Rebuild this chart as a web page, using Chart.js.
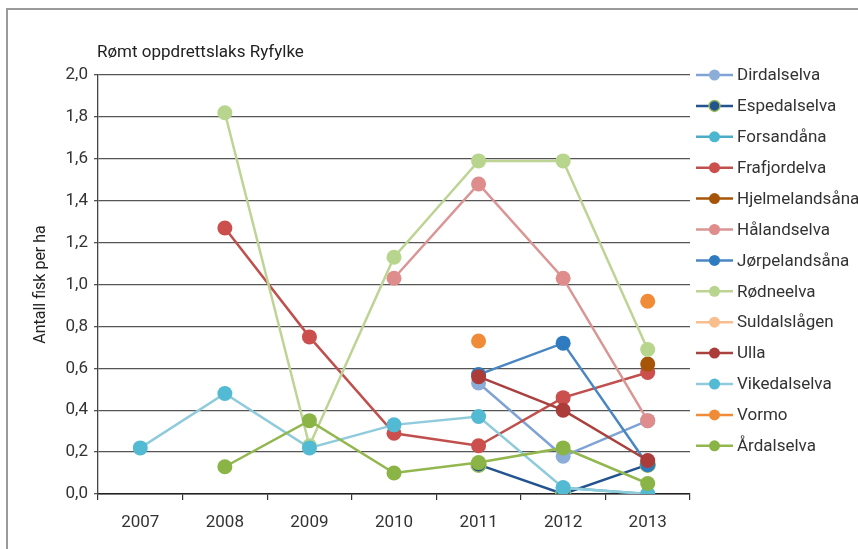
<!DOCTYPE html>
<html>
<head>
<meta charset="utf-8">
<script src="https://cdn.jsdelivr.net/npm/chart.js@4"></script>
<style>
  html, body { margin: 0; padding: 0; background: #fff; }
  #wrap { width: 858px; height: 549px; position: relative; }
</style>
</head>
<body>
<div id="wrap"><canvas id="fishChart" width="858" height="549"></canvas></div>
<script>
// ===== Data =====
const years = ['2007', '2008', '2009', '2010', '2011', '2012', '2013'];
const yTicks = [0, 0.2, 0.4, 0.6, 0.8, 1.0, 1.2, 1.4, 1.6, 1.8, 2.0];

const dirdalselva    = [null, null, null, null, 0.53, 0.18, 0.35];
const espedalselva   = [null, null, null, null, 0.14, 0.00, 0.14];
const forsandana     = [null, null, null, null, null, 0.03, 0.00];
const frafjordelva   = [null, 1.27, 0.75, 0.29, 0.23, 0.46, 0.58];
const hjelmelandsana = [null, null, null, null, null, null, 0.62];
const halandselva    = [null, null, null, 1.03, 1.48, 1.03, 0.35];
const jorpelandsana  = [null, null, null, null, 0.57, 0.72, 0.14];
const rodneelva      = [null, 1.82, 0.23, 1.13, 1.59, 1.59, 0.69];
const suldalslagen   = [null, null, null, null, null, null, null];
const ulla           = [null, null, null, null, 0.56, 0.40, 0.16];
const vikedalselva   = [0.22, 0.48, 0.22, 0.33, 0.37, 0.03, 0.00];
const vormo          = [null, null, null, null, 0.73, null, 0.92];
const ardalselva     = [null, 0.13, 0.35, 0.10, 0.15, 0.22, 0.05];

const seriesNames = [
  'Dirdalselva', 'Espedalselva', 'Forsandåna', 'Frafjordelva', 'Hjelmelandsåna',
  'Hålandselva', 'Jørpelandsåna', 'Rødneelva', 'Suldalslågen', 'Ulla',
  'Vikedalselva', 'Vormo', 'Årdalselva'
];
const seriesValues = [
  dirdalselva, espedalselva, forsandana, frafjordelva, hjelmelandsana,
  halandselva, jorpelandsana, rodneelva, suldalslagen, ulla,
  vikedalselva, vormo, ardalselva
];

// line colour, marker fill, marker border
const seriesStyles = [
  ['#7FA3D5', '#8DADD9', '#8DADD9'],
  ['#24548F', '#24548F', '#9BBB59'],
  ['#4BACC6', '#4BB6CF', '#4BB6CF'],
  ['#C0504D', '#CB4F4C', '#CB4F4C'],
  ['#A65508', '#A65508', '#A65508'],
  ['#D99694', '#DE8C8C', '#DE8C8C'],
  ['#4A86C2', '#2E7CBF', '#2E7CBF'],
  ['#BDD494', '#B8D58E', '#B8D58E'],
  ['#F9BE8E', '#F9BE8E', '#F9BE8E'],
  ['#A9413F', '#AC3C3A', '#AC3C3A'],
  ['#8FCBDA', '#52BAD2', '#52BAD2'],
  ['#F08C38', '#F08C38', '#F08C38'],
  ['#92B74E', '#8BB447', '#8BB447']
];

const chartTitle = 'Rømt oppdrettslaks Ryfylke';
const yTitle = 'Antall fisk per ha';
const FONT = 'Roboto, "DejaVu Sans Condensed", sans-serif';

// ===== Plugins =====
const framePlugin = {
  id: 'frame',
  beforeDraw(chart) {
    const ctx = chart.ctx;
    ctx.save();
    ctx.strokeStyle = '#9a9a9a';
    ctx.lineWidth = 2;
    ctx.beginPath();
    ctx.moveTo(7, chart.height);
    ctx.lineTo(7, 9);
    ctx.lineTo(chart.width, 9);
    ctx.stroke();
    // chart title, left-aligned with the plot area
    ctx.fillStyle = '#222';
    ctx.font = '17px ' + FONT;
    ctx.textBaseline = 'alphabetic';
    ctx.fillText(chartTitle, chart.chartArea.left - 1, 57);
    ctx.restore();
  }
};

const legendPlugin = {
  id: 'sideLegend',
  afterDraw(chart) {
    const ctx = chart.ctx;
    const x0 = chart.chartArea.right + 6;
    const top = chart.chartArea.top;
    const step = 30.9;
    ctx.save();
    ctx.font = '17px ' + FONT;
    ctx.textBaseline = 'middle';
    chart.data.datasets.forEach((ds, i) => {
      const y = top + i * step;
      ctx.strokeStyle = ds.borderColor;
      ctx.lineWidth = 2.5;
      ctx.beginPath();
      ctx.moveTo(x0, y);
      ctx.lineTo(x0 + 37, y);
      ctx.stroke();
      ctx.beginPath();
      ctx.arc(x0 + 18.5, y, 5.5, 0, Math.PI * 2);
      ctx.fillStyle = ds.pointBackgroundColor;
      ctx.fill();
      if (ds.pointBorderColor !== ds.pointBackgroundColor) {
        ctx.strokeStyle = ds.pointBorderColor;
        ctx.lineWidth = 1.5;
        ctx.stroke();
      }
      ctx.fillStyle = '#333';
      ctx.fillText(ds.label, x0 + 41, y + 1);
    });
    ctx.restore();
  }
};

// ===== Chart =====
const datasets = seriesNames.map((name, i) => ({
  label: name,
  data: seriesValues[i],
  borderColor: seriesStyles[i][0],
  backgroundColor: seriesStyles[i][1],
  pointBackgroundColor: seriesStyles[i][1],
  pointBorderColor: seriesStyles[i][2],
  pointBorderWidth: seriesStyles[i][2] !== seriesStyles[i][1] ? 1.5 : 0,
  pointRadius: 7.5,
  borderWidth: 2.5,
  tension: 0,
  spanGaps: false,
  order: seriesNames.length - i
}));

const ctx = document.getElementById('fishChart').getContext('2d');
const chart = new Chart(ctx, {
  type: 'line',
  data: { labels: years, datasets },
  plugins: [framePlugin, legendPlugin],
  options: {
    responsive: false,
    animation: false,
    events: [],
    layout: { padding: { left: 20, right: 168, top: 75, bottom: 6 } },
    plugins: {
      legend: { display: false },
      tooltip: { enabled: false },
      title: { display: false }
    },
    scales: {
      x: {
        offset: true,
        afterFit: (scale) => { scale.height = 49; },
        grid: {
          offset: true,
          drawOnChartArea: false,
          drawTicks: true,
          tickLength: 6,
          color: '#333',
          lineWidth: 1.2
        },
        border: { color: '#222', width: 1.5 },
        ticks: {
          color: '#333',
          padding: 13,
          font: { family: FONT, size: 17 }
        }
      },
      y: {
        min: 0,
        max: 2.0,
        afterFit: (scale) => { scale.width = 78; },
        afterBuildTicks: (scale) => {
          scale.ticks = yTicks.map((v) => ({ value: v }));
        },
        grid: {
          color: '#555',
          lineWidth: 1.3,
          tickLength: 4
        },
        border: { color: '#444', width: 1.3 },
        ticks: {
          color: '#333',
          padding: 6,
          font: { family: FONT, size: 17 },
          callback: (v) => v.toFixed(1).replace('.', ',')
        },
        title: {
          display: true,
          text: yTitle,
          color: '#222',
          padding: { top: 11, bottom: 0 },
          font: { family: FONT, size: 16 }
        }
      }
    }
  }
});
</script>
</body>
</html>
